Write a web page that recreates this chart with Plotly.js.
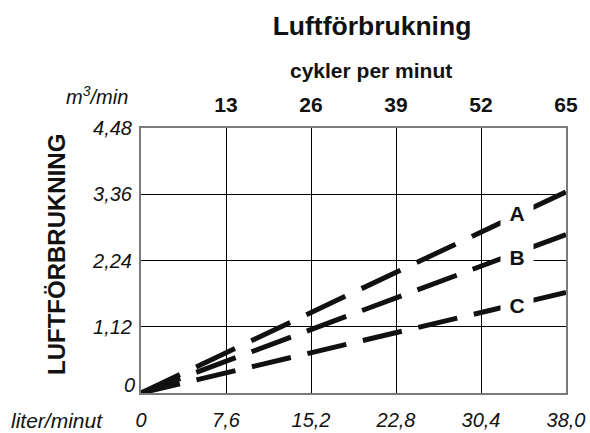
<!DOCTYPE html>
<html>
<head>
<meta charset="utf-8">
<script src="https://cdn.plot.ly/plotly-3.0.1.min.js"></script>
<style>html,body{margin:0;padding:0;background:#fff;}#chart{width:590px;height:433px;}</style>
</head>
<body>
<div id="chart"></div>
<script>
// Data
var flowLpm = [0, 38.0];                 // liter/minut (bottom axis)
var consA = [0, 3.40];                   // m3/min, curve A
var consB = [0, 2.68];                   // m3/min, curve B
var consC = [0, 1.70];                   // m3/min, curve C
var seriesNames = ['A', 'B', 'C'];
var labelX = [33.6, 33.6, 33.6];         // where each curve label sits
var labelY = [3.04, 2.30, 1.49];
var xTickVals = [0, 7.6, 15.2, 22.8, 30.4, 38.0];
var xTickText = ['0', '7,6', '15,2', '22,8', '30,4', '38,0'];
var yTickVals = [1.12, 2.24, 3.36, 4.48];
var yTickText = ['1,12', '2,24', '3,36', '4,48'];
var yZeroText = '0';
var cycles = [13, 26, 39, 52, 65];       // cykler per minut (top axis)
var cycleText = ['13', '26', '39', '52', '65'];

var FONT = 'Liberation Sans, Arial, Helvetica, sans-serif';
var INK = '#111111';
var dashes = ['43px,18px', '42px,17px', '40px,17px'];
var ys = [consA, consB, consC];

var traces = ys.map(function (y, i) {
  return {
    x: flowLpm, y: y, type: 'scatter', mode: 'lines',
    name: seriesNames[i], hoverinfo: 'skip',
    line: {color: INK, width: 5, dash: dashes[i]}
  };
});
traces.push({
  x: [0, cycles[cycles.length - 1]], y: [0, 0], xaxis: 'x2', yaxis: 'y',
  type: 'scatter', mode: 'markers', marker: {opacity: 0}, hoverinfo: 'skip', showlegend: false
});

var annotations = seriesNames.map(function (n, i) {
  return {
    x: labelX[i], y: labelY[i], xref: 'x', yref: 'y', text: n, showarrow: false,
    font: {family: FONT, size: 21, color: INK, weight: 'bold'},
    bgcolor: '#ffffff', width: 30, height: 24
  };
});
annotations.push(
  {x: 0, y: 0, xref: 'paper', yref: 'y', text: yZeroText, showarrow: false,
   xanchor: 'right', yanchor: 'middle', xshift: -4, yshift: 8,
   font: {family: FONT, size: 20, color: INK, style: 'italic'}},
  {x: (97 - 141) / 425, y: (393 - 95) / 265, xref: 'paper', yref: 'paper',
   text: 'm<sup>3</sup>/min', showarrow: false, xanchor: 'center', yanchor: 'middle',
   font: {family: FONT, size: 20, color: INK, style: 'italic'}},
  {x: (56 - 141) / 425, y: (393 - 255) / 265, xref: 'paper', yref: 'paper',
   text: 'LUFTFÖRBRUKNING', textangle: -90, showarrow: false,
   xanchor: 'center', yanchor: 'middle',
   font: {family: FONT, size: 24, color: INK, weight: 'bold'}},
  {x: (371 - 141) / 425, y: (393 - 70) / 265, xref: 'paper', yref: 'paper',
   text: 'cykler per minut', showarrow: false, xanchor: 'center', yanchor: 'middle',
   font: {family: FONT, size: 21, color: INK, weight: 'bold'}},
  {x: (57 - 141) / 425, y: (393 - 420) / 265, xref: 'paper', yref: 'paper',
   text: 'liter/minut', showarrow: false, xanchor: 'center', yanchor: 'middle',
   font: {family: FONT, size: 21, color: INK, style: 'italic'}}
);

var layout = {
  width: 590, height: 433,
  margin: {l: 141, r: 24, t: 128, b: 40, pad: 0},
  paper_bgcolor: '#ffffff', plot_bgcolor: '#ffffff',
  showlegend: false,
  title: {
    text: 'Luftförbrukning', xref: 'paper', x: (372 - 141) / 425, xanchor: 'center',
    yref: 'container', y: 1 - 26 / 433, yanchor: 'middle',
    font: {family: FONT, size: 26.5, color: INK, weight: 'bold'}
  },
  xaxis: {
    range: [0, 38], tickvals: xTickVals, ticktext: xTickText, ticks: '',
    showgrid: true, gridcolor: '#000000', gridwidth: 1, zeroline: false,
    showline: true, mirror: true, linecolor: '#7a7a7a', linewidth: 2,
    ticklabelstandoff: 8,
    tickfont: {family: FONT, size: 20, color: INK, style: 'italic'}, fixedrange: true
  },
  xaxis2: {
    range: [0, 65], overlaying: 'x', side: 'top', tickvals: cycles, ticktext: cycleText,
    ticks: '', showgrid: false, zeroline: false, showline: false,
    ticklabelstandoff: 11,
    tickfont: {family: FONT, size: 21, color: INK, weight: 'bold'}, fixedrange: true
  },
  yaxis: {
    range: [0, 4.48], tickvals: yTickVals, ticktext: yTickText, ticks: '',
    showgrid: true, gridcolor: '#000000', gridwidth: 1, zeroline: false,
    showline: true, mirror: true, linecolor: '#7a7a7a', linewidth: 2,
    ticklabelstandoff: 3,
    tickfont: {family: FONT, size: 20, color: INK, style: 'italic'}, fixedrange: true
  },
  annotations: annotations
};

Plotly.newPlot('chart', traces, layout, {displayModeBar: false, staticPlot: true});
</script>
</body>
</html>
